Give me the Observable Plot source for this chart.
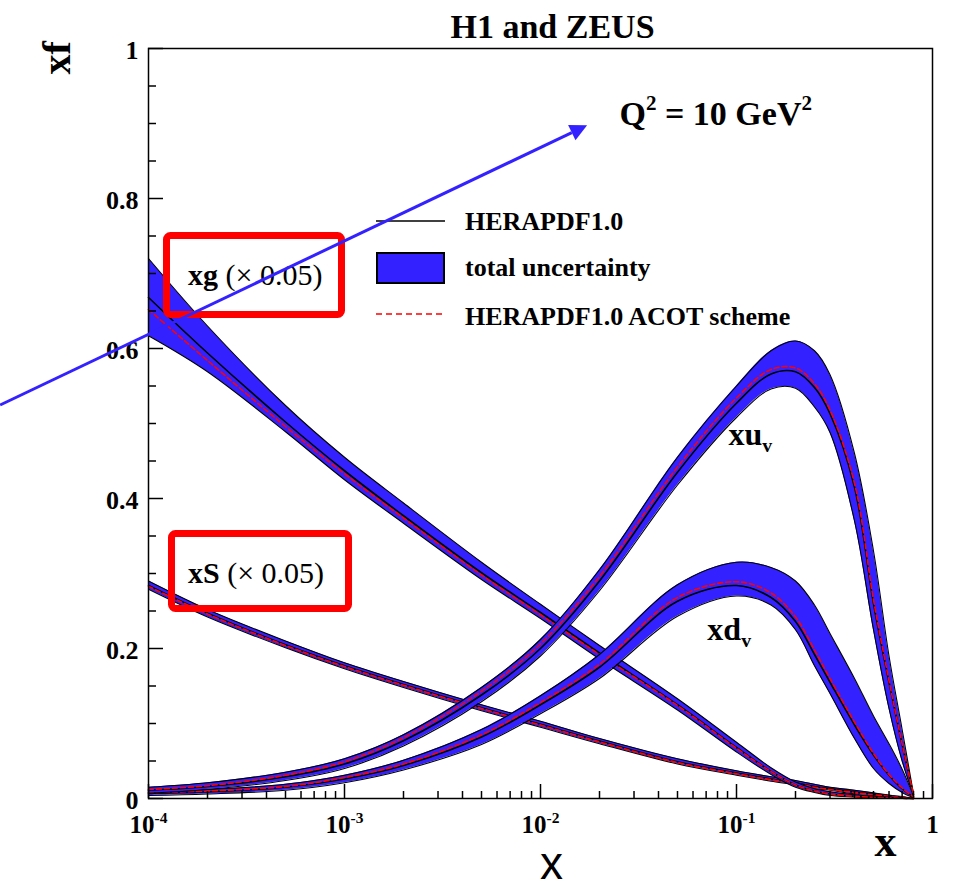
<!DOCTYPE html>
<html>
<head>
<meta charset="utf-8">
<script src="https://cdn.jsdelivr.net/npm/d3@7"></script>
<script src="https://cdn.jsdelivr.net/npm/@observablehq/plot@0.6"></script>
<style>
html, body { margin: 0; padding: 0; background: #fff; overflow: hidden; }
#wrap { position: relative; width: 954px; height: 888px; }
#wrap > svg { position: absolute; left: 0; top: 0; }
#overlay { pointer-events: none; }
</style>
</head>
<body>
<div id="wrap"></div>
<script>
// ---------------- data ----------------
const xGrid = [1e-4, 2e-4, 5e-4, 1e-3, 2e-3, 5e-3, 0.01, 0.02, 0.05, 0.1, 0.15, 0.2, 0.25, 0.3, 0.4, 0.5, 0.6, 0.7, 0.8];

// xu_v
const xuMid  = [0.011, 0.016, 0.029, 0.046, 0.077, 0.138, 0.200, 0.290, 0.435, 0.527, 0.566, 0.569, 0.548, 0.513, 0.415, 0.260, 0.155, 0.072, 0.005];
const xuHi   = [0.015, 0.021, 0.035, 0.053, 0.085, 0.148, 0.212, 0.305, 0.455, 0.550, 0.597, 0.610, 0.597, 0.565, 0.460, 0.330, 0.190, 0.092, 0.006];
const xuLo   = [0.007, 0.012, 0.024, 0.040, 0.070, 0.129, 0.190, 0.277, 0.418, 0.508, 0.546, 0.547, 0.522, 0.488, 0.370, 0.225, 0.120, 0.050, 0.004];
const xuAcot = [0.012, 0.017, 0.031, 0.049, 0.081, 0.143, 0.206, 0.296, 0.442, 0.534, 0.572, 0.574, 0.553, 0.518, 0.420, 0.265, 0.157, 0.073, 0.005];

// xd_v
const xdMid  = [0.007, 0.009, 0.015, 0.026, 0.044, 0.082, 0.125, 0.175, 0.263, 0.284, 0.268, 0.236, 0.192, 0.155, 0.098, 0.058, 0.031, 0.013, 0.002];
const xdHi   = [0.010, 0.012, 0.019, 0.031, 0.051, 0.092, 0.137, 0.192, 0.285, 0.315, 0.308, 0.290, 0.258, 0.220, 0.160, 0.110, 0.073, 0.039, 0.003];
const xdLo   = [0.004, 0.006, 0.011, 0.021, 0.038, 0.072, 0.113, 0.160, 0.243, 0.270, 0.258, 0.225, 0.177, 0.140, 0.080, 0.040, 0.020, 0.008, 0.001];
const xdAcot = [0.008, 0.010, 0.016, 0.028, 0.046, 0.085, 0.128, 0.179, 0.268, 0.289, 0.274, 0.242, 0.198, 0.160, 0.102, 0.060, 0.032, 0.014, 0.002];

// xg (x 0.05)
const xgMid  = [0.668, 0.594, 0.502, 0.437, 0.377, 0.301, 0.248, 0.194, 0.125, 0.068, 0.036, 0.018, 0.010, 0.006, 0.003, 0.0015, 0.0008, 0.0003, 0];
const xgHi   = [0.720, 0.630, 0.524, 0.455, 0.394, 0.315, 0.259, 0.204, 0.133, 0.075, 0.041, 0.022, 0.013, 0.009, 0.005, 0.003, 0.002, 0.001, 0];
const xgLo   = [0.617, 0.569, 0.489, 0.425, 0.367, 0.292, 0.240, 0.186, 0.118, 0.062, 0.032, 0.015, 0.008, 0.004, 0.002, 0.001, 0.0003, 0.0001, 0];
const xgAcot = [0.652, 0.584, 0.496, 0.433, 0.374, 0.298, 0.245, 0.192, 0.124, 0.067, 0.036, 0.018, 0.010, 0.006, 0.003, 0.0015, 0.0008, 0.0003, 0];

// xS (x 0.05)
const xsMid  = [0.284, 0.247, 0.205, 0.177, 0.152, 0.121, 0.099, 0.0765, 0.049, 0.034, 0.026, 0.021, 0.016, 0.013, 0.0085, 0.0055, 0.003, 0.0015, 0];
const xsHi   = [0.290, 0.252, 0.210, 0.181, 0.156, 0.125, 0.103, 0.080, 0.053, 0.037, 0.029, 0.024, 0.019, 0.015, 0.011, 0.0075, 0.0045, 0.0025, 0.0005];
const xsLo   = [0.279, 0.242, 0.201, 0.173, 0.148, 0.117, 0.095, 0.073, 0.046, 0.031, 0.023, 0.018, 0.013, 0.011, 0.006, 0.0035, 0.0015, 0.0005, 0];
const xsAcot = [0.283, 0.246, 0.204, 0.176, 0.151, 0.120, 0.098, 0.0755, 0.048, 0.033, 0.025, 0.020, 0.015, 0.012, 0.008, 0.005, 0.003, 0.0015, 0];

// axes
const xMajor = [1e-4, 1e-3, 1e-2, 1e-1, 1];
const xTickLabels = ["10^{-4}", "10^{-3}", "10^{-2}", "10^{-1}", "1"];
const xMinorSteps = [2, 3, 4, 5, 6, 7, 8, 9];
const yMajor = [0, 0.2, 0.4, 0.6, 0.8, 1];
const yTickLabels = ["0", "0.2", "0.4", "0.6", "0.8", "1"];
const yMinor = [0.05, 0.1, 0.15, 0.25, 0.3, 0.35, 0.45, 0.5, 0.55, 0.65, 0.7, 0.75, 0.85, 0.9, 0.95];

// curve labels (data coordinates)
const curveLabelText = ["xu_{v}", "xd_{v}"];
const curveLabelX = [0.091, 0.071];
const curveLabelY = [0.471, 0.211];

// annotation arrow (data coordinates: start, tip)
const arrowX = [1.76e-5, 0.0174];
const arrowY = [0.524, 0.897];

// legend and boxed labels
const legendLabels = ["HERAPDF1.0", "total uncertainty", "HERAPDF1.0 ACOT scheme"];
const boxLabels = [["xg", " (\u00d7 0.05)"], ["xS", " (\u00d7 0.05)"]];

// ---------------- drawing ----------------
const BLUE = "#3322ff";
const RED = "#ff0000";
const SERIF = "'Liberation Serif', 'Times New Roman', Times, serif";
const SANS = "'Liberation Sans', Arial, sans-serif";
const CURVE = "catmull-rom";

const xMinor = xMajor.slice(0, -1).flatMap(d => xMinorSteps.map(k => k * d));

const series = [
  {lo: xsLo, mid: xsMid, hi: xsHi, acot: xsAcot},
  {lo: xgLo, mid: xgMid, hi: xgHi, acot: xgAcot},
  {lo: xdLo, mid: xdMid, hi: xdHi, acot: xdAcot},
  {lo: xuLo, mid: xuMid, hi: xuHi, acot: xuAcot}
];

const seriesMarks = series.flatMap(s => {
  const rows = xGrid.map((x, i) => ({x, lo: s.lo[i], mid: s.mid[i], hi: s.hi[i], acot: s.acot[i]}));
  return [
    Plot.areaY(rows, {x: "x", y1: "lo", y2: "hi", fill: BLUE, curve: CURVE}),
    Plot.line(rows, {x: "x", y: "lo", stroke: "black", strokeWidth: 1.1, curve: CURVE}),
    Plot.line(rows, {x: "x", y: "hi", stroke: "black", strokeWidth: 1.1, curve: CURVE}),
    Plot.line(rows, {x: "x", y: "mid", stroke: "black", strokeWidth: 1.6, curve: CURVE}),
    Plot.line(rows, {x: "x", y: "acot", stroke: RED, strokeWidth: 1.6, strokeDasharray: "5,3", curve: CURVE})
  ];
});

const plot = Plot.plot({
  width: 954,
  height: 888,
  marginLeft: 148,
  marginRight: 22,
  marginTop: 48,
  marginBottom: 90,
  style: {background: "transparent", color: "black"},
  x: {type: "log", domain: [1e-4, 1]},
  y: {domain: [0, 1]},
  marks: [
    ...seriesMarks,
    // ticks (inside the frame)
    Plot.axisY(yMajor, {anchor: "left", tickSize: -15, strokeWidth: 1.5, fill: "none", label: null}),
    Plot.axisY(yMinor, {anchor: "left", tickSize: -8, strokeWidth: 1.5, fill: "none", label: null}),
    Plot.axisX(xMajor, {anchor: "bottom", tickSize: -14, strokeWidth: 1.5, fill: "none", label: null}),
    Plot.axisX(xMinor, {anchor: "bottom", tickSize: -7, strokeWidth: 1.5, fill: "none", label: null}),
    // tick labels
    Plot.axisY(yMajor, {anchor: "left", tickSize: 0, tickPadding: 10, dy: 2, label: null,
      tickFormat: d => yTickLabels[yMajor.indexOf(d)],
      fontSize: 26, fontWeight: "bold", fontFamily: SERIF}),
    Plot.axisX(xMajor, {anchor: "bottom", tickSize: 0, tickPadding: 17, label: null,
      tickFormat: d => xTickLabels[xMajor.indexOf(d)],
      fontSize: 25, fontWeight: "bold", fontFamily: SERIF}),
    Plot.frame({stroke: "black", strokeWidth: 1.5}),
    // axis titles, chart title
    Plot.text(["xf"], {text: d => d, frameAnchor: "top-left", dx: -107, dy: 26, rotate: -90,
      fontSize: 40, fontWeight: "bold", fontFamily: SERIF}),
    Plot.text(["x"], {text: d => d, frameAnchor: "bottom-right", dx: -36, dy: 57, lineAnchor: "bottom",
      fontSize: 44, fontWeight: "bold", fontFamily: SERIF}),
    Plot.text(["x"], {text: d => d, frameAnchor: "bottom", dx: 11, dy: 80, lineAnchor: "bottom",
      fontSize: 46, fontWeight: "normal", fontFamily: SANS}),
    Plot.text(["H1 and ZEUS"], {text: d => d, frameAnchor: "top", dx: 12, dy: -11, lineAnchor: "bottom",
      fontSize: 34, fontWeight: "bold", fontFamily: SERIF}),
    Plot.text(["Q^{2} = 10 GeV^{2}"], {text: d => d, frameAnchor: "top-left", dx: 471, dy: 76,
      textAnchor: "start", lineAnchor: "bottom", fontSize: 34, fontWeight: "bold", fontFamily: SERIF}),
    // curve labels
    Plot.text(curveLabelText, {x: curveLabelX, y: curveLabelY, text: curveLabelText,
      textAnchor: "start", lineAnchor: "bottom", fontSize: 32, fontWeight: "bold", fontFamily: SERIF})
  ]
});

// turn ^{..} and _{..} into real superscript / subscript tspans
const NS = "http://www.w3.org/2000/svg";
plot.querySelectorAll("text").forEach(t => {
  if (t.children.length) return;
  const s = t.textContent;
  if (!/[\^_]\{/.test(s)) return;
  t.textContent = "";
  let shift = 0;
  for (const m of s.matchAll(/([\^_])\{([^}]*)\}|([^\^_]+)/g)) {
    const ts = document.createElementNS(NS, "tspan");
    if (m[3] !== undefined) {
      ts.textContent = m[3];
      if (shift) ts.setAttribute("dy", `${(-shift).toFixed(3)}em`);
      shift = 0;
    } else {
      const target = m[1] === "^" ? -0.42 : 0.22;
      ts.setAttribute("font-size", "62%");
      ts.setAttribute("dy", `${((target - shift) / 0.62).toFixed(3)}em`);
      ts.textContent = m[2];
      shift = target;
    }
    t.appendChild(ts);
  }
});

document.getElementById("wrap").appendChild(plot);

// ---------------- overlay: legend, boxed labels, arrow ----------------
const sx = plot.scale("x"), sy = plot.scale("y");
const ax1 = sx.apply(arrowX[0]), ay1 = sy.apply(arrowY[0]);
const ax2 = sx.apply(arrowX[1]), ay2 = sy.apply(arrowY[1]);
const ang = Math.atan2(ay2 - ay1, ax2 - ax1);
const headL = 17, headW = 8.5;
const bx = ax2 - headL * Math.cos(ang), by = ay2 - headL * Math.sin(ang);
const headPts = [
  [ax2, ay2],
  [bx + headW * Math.sin(ang), by - headW * Math.cos(ang)],
  [bx - headW * Math.sin(ang), by + headW * Math.cos(ang)]
].map(p => p.map(v => v.toFixed(1)).join(",")).join(" ");

const ov = d3.select("#wrap").append("svg")
  .attr("id", "overlay").attr("width", 954).attr("height", 888)
  .attr("font-family", SERIF);

// legend
const lg = ov.append("g");
lg.append("line").attr("x1", 376).attr("x2", 445).attr("y1", 221).attr("y2", 221)
  .attr("stroke", "black").attr("stroke-width", 1.5);
lg.append("rect").attr("x", 377).attr("y", 253).attr("width", 67).attr("height", 30)
  .attr("fill", BLUE).attr("stroke", "black").attr("stroke-width", 2);
lg.append("line").attr("x1", 376).attr("x2", 445).attr("y1", 314).attr("y2", 314)
  .attr("stroke", RED).attr("stroke-width", 1.5).attr("stroke-dasharray", "6,4");
const legendY = [230, 276, 325];
legendLabels.forEach((lab, i) => {
  lg.append("text").attr("x", 465).attr("y", legendY[i])
    .attr("font-size", 26).attr("font-weight", "bold").text(lab);
});

// red boxes with scaled-PDF labels
const boxGeom = [
  {x: 166.5, y: 235.5, w: 175, h: 79, tx: 188, ty: 285},
  {x: 171.5, y: 533.5, w: 177, h: 75, tx: 188, ty: 583}
];
boxLabels.forEach((parts, i) => {
  const g = boxGeom[i];
  ov.append("rect").attr("x", g.x).attr("y", g.y).attr("width", g.w).attr("height", g.h)
    .attr("rx", 4).attr("fill", "none").attr("stroke", RED).attr("stroke-width", 7);
  const t = ov.append("text").attr("x", g.tx).attr("y", g.ty).attr("font-size", 30);
  t.append("tspan").attr("font-weight", "bold").text(parts[0]);
  t.append("tspan").attr("font-weight", "normal").text(parts[1]);
});

// arrow
ov.append("line").attr("x1", ax1).attr("y1", ay1).attr("x2", bx).attr("y2", by)
  .attr("stroke", BLUE).attr("stroke-width", 3);
ov.append("polygon").attr("points", headPts).attr("fill", BLUE);
</script>
</body>
</html>
